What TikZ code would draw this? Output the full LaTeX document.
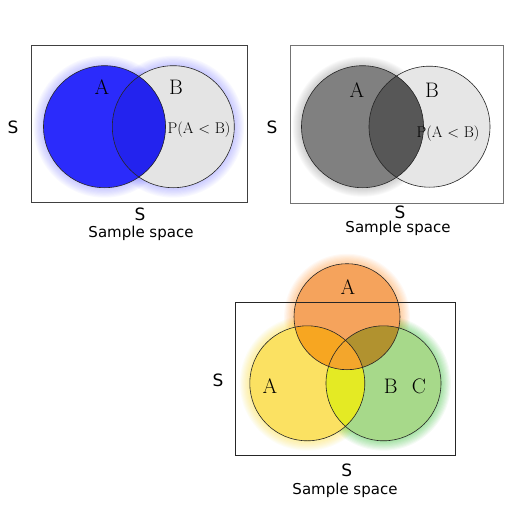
\documentclass[tikz,border=0pt]{standalone}
\usepackage{fontspec}
\setsansfont{DejaVu Sans}
\definecolor{blueA}{HTML}{2B2BFB}
\definecolor{blueAB}{HTML}{2323EE}
\definecolor{lightB}{HTML}{E4E4E4}
\definecolor{glowblue}{HTML}{7070FF}
\definecolor{grayA}{HTML}{808080}
\definecolor{grayAB}{HTML}{575757}
\definecolor{grayB}{HTML}{E6E6E6}
\definecolor{orangeT}{HTML}{F5A35C}
\definecolor{yellowL}{HTML}{FBE162}
\definecolor{greenR}{HTML}{A7D98A}
\definecolor{yg}{HTML}{E4EA24}
\definecolor{oy}{HTML}{F7A621}
\definecolor{og}{HTML}{B1922F}
\definecolor{oyg}{HTML}{F3A62C}
\newcommand\myglow[4]{%
  \foreach \k in {1,...,9}{\fill[#4, opacity=0.045] (#1) circle[radius=#2pt+\k*#3pt];}}
\tikzset{
  venn/.style={draw=black!85, line width=0.6pt},
  frame/.style={draw=black!75, line width=0.7pt},
  setlbl/.style={font=\fontsize{21}{21}\selectfont, inner sep=0},
  problbl/.style={font=\fontsize{15.5}{15.5}\selectfont, inner sep=0},
  slbl/.style={font=\sffamily\fontsize{17}{17}\selectfont, inner sep=0},
  caplbl/.style={font=\sffamily\fontsize{15}{15}\selectfont, inner sep=0},
}
\begin{document}
\begin{tikzpicture}[x=1pt,y=-1pt]
\useasboundingbox (0,0) rectangle (512,512);
\fill[white] (0,0) rectangle (512,512);
% ---------------- Panel 1 ----------------
\coordinate (p1A) at (104.5,126.7);
\coordinate (p1B) at (173.3,126.7);
\fill[white] (31.5,45) rectangle (247,202.5);
\myglow{p1A}{61}{1.1}{glowblue}
\myglow{p1B}{61}{1.1}{glowblue}
\fill[lightB] (p1B) circle[radius=61pt];
\fill[blueA] (p1A) circle[radius=61pt];
\begin{scope}
  \clip (p1A) circle[radius=61pt];
  \fill[blueAB] (p1B) circle[radius=61pt];
\end{scope}
\draw[venn] (p1A) circle[radius=61pt];
\draw[venn] (p1B) circle[radius=61pt];
\draw[frame] (31.5,45) rectangle (247,202.5);
\node[setlbl] (p1la) at (102,87) {A};
\node[setlbl] (p1lb) at (176,87) {B};
\node[problbl] (p1p) at (199,130) {P(A < B)};
\node[slbl] (p1s1) at (13,127) {S};
\node[slbl] (p1s2) at (140,214) {S};
\node[caplbl] (p1c) at (141,233) {Sample space};
% ---------------- Panel 2 ----------------
\coordinate (p2A) at (362.5,126.7);
\coordinate (p2B) at (429.5,126.7);
\fill[white] (290,45) rectangle (503,203);
\myglow{p2A}{61}{1.0}{black!50}
\fill[grayB] (p2B) circle[radius=60.5pt];
\fill[grayA] (p2A) circle[radius=61pt];
\begin{scope}
  \clip (p2A) circle[radius=61pt];
  \fill[grayAB] (p2B) circle[radius=60.5pt];
\end{scope}
\draw[venn] (p2A) circle[radius=61pt];
\draw[venn] (p2B) circle[radius=60.5pt];
\draw[frame, draw=black!55] (290,45) rectangle (503,203);
\node[setlbl] (p2la) at (357,90) {A};
\node[setlbl] (p2lb) at (432,90) {B};
\node[problbl] (p2p) at (448,134) {P(A < B)};
\node[slbl] (p2s1) at (272,127) {S};
\node[slbl] (p2s2) at (400,212) {S};
\node[caplbl] (p2c) at (398,228) {Sample space};
% ---------------- Panel 3 ----------------
\coordinate (p3T) at (347,316.7);
\coordinate (p3L) at (307.3,383.3);
\coordinate (p3R) at (383.5,383.3);
\myglow{p3T}{53}{1.1}{orange}
\myglow{p3L}{57.5}{1.1}{yellow!80!orange}
\myglow{p3R}{57.5}{1.1}{green!70!black}
\fill[yellowL] (p3L) circle[radius=57.5pt];
\fill[greenR] (p3R) circle[radius=57.5pt];
\fill[orangeT] (p3T) circle[radius=53pt];
\begin{scope}
  \clip (p3L) circle[radius=57.5pt];
  \fill[yg] (p3R) circle[radius=57.5pt];
  \fill[oy] (p3T) circle[radius=53pt];
  \clip (p3R) circle[radius=57.5pt];
  \fill[oyg] (p3T) circle[radius=53pt];
\end{scope}
\begin{scope}
  \clip (p3R) circle[radius=57.5pt];
  \clip (p3T) circle[radius=53pt];
  \fill[og] (p3L) ++(-200,-200) rectangle ++(400,400);
  \clip (p3L) circle[radius=57.5pt];
  \fill[oyg] (p3L) circle[radius=57.5pt];
\end{scope}
\draw[venn] (p3L) circle[radius=57.5pt];
\draw[venn] (p3R) circle[radius=57.5pt];
\draw[venn] (p3T) circle[radius=53pt];
\draw[frame, draw=black!85] (235,302.3) rectangle (455.7,455);
\node[setlbl] (p3la) at (348,287) {A};
\node[setlbl] (p3lb) at (270,386.5) {A};
\node[setlbl] (p3lc) at (390.7,386.5) {B};
\node[setlbl] (p3ld) at (419,386.5) {C};
\node[slbl] (p3s1) at (218,380) {S};
\node[slbl] (p3s2) at (346.7,470) {S};
\node[caplbl] (p3c) at (345,490) {Sample space};
\end{tikzpicture}
\end{document}
